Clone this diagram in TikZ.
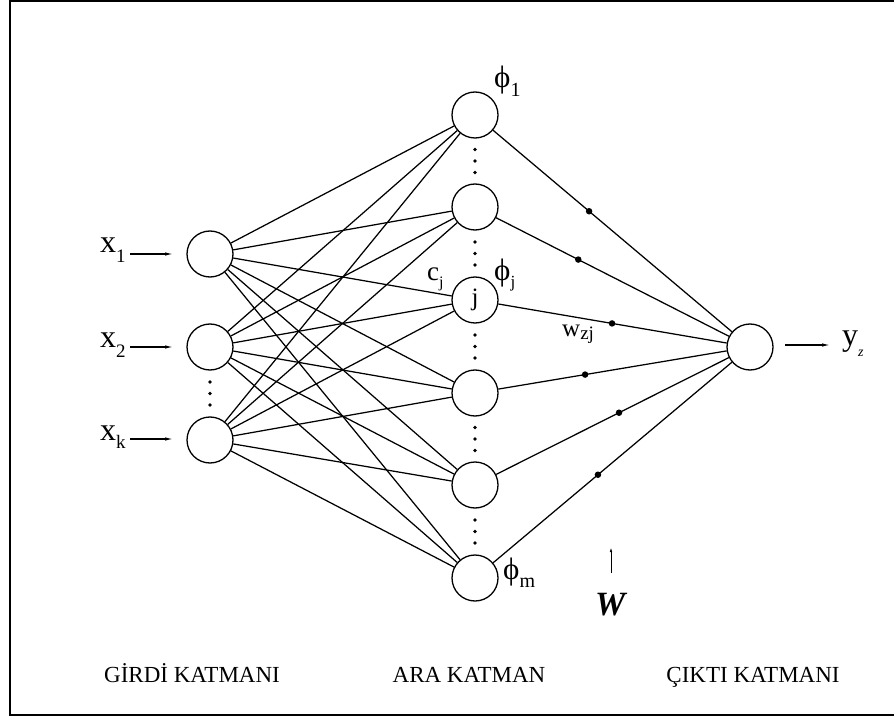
\documentclass[tikz,border=0pt]{standalone}
\usepackage{fontspec}
\setmainfont{Liberation Serif}
\usetikzlibrary{arrows.meta,calc}
\newcommand\fsz[1]{\fontsize{#1}{#1}\selectfont}
% symbol with a lowered subscript: \withsub{main size}{main}{sub size}{sub}{drop}
\newcommand\withsub[5]{{\fsz{#1}#2}\raisebox{-#5}{\fsz{#3}#4}}
\begin{document}
\begin{tikzpicture}[x=1pt,y=-1pt,
  neuron/.style={circle, draw, line width=1.3pt, minimum size=46pt, inner sep=0pt, fill=white, font=\fsz{25}},
  link/.style={line width=1.25pt},
  wdot/.style={circle, fill, inner sep=0pt, minimum size=6.5pt},
  inarrow/.style={line width=1.1pt, -{Latex[length=8pt,width=3.5pt]}},
  lbl/.style={inner sep=0pt, anchor=base west},
  layer/.style={inner sep=0pt, anchor=base, font=\fsz{23}}]
\useasboundingbox (0,0) rectangle (894,719);
% frame (open on the right)
\draw[line width=2pt] (894,1.5) -- (10,1.5) -- (10,715) -- (894,715);

% input layer
\node[neuron] (in1) at (210,254) {};
\node[neuron] (in2) at (210,347) {};
\node[neuron] (ink) at (210,440) {};
% hidden layer
\node[neuron] (h1) at (475,115) {};
\node[neuron] (h2) at (475,207) {};
\node[neuron] (h3) at (475,300) {j};
\node[neuron] (h4) at (475,393) {};
\node[neuron] (h5) at (475,485) {};
\node[neuron] (h6) at (475,578) {};
% output layer
\node[neuron] (out) at (750,347) {};

% input to hidden, fully connected
\foreach \i in {in1,in2,ink}
  \foreach \h in {h1,h2,h3,h4,h5,h6}
    \draw[link] (\i) -- (\h);

% hidden to output, weights marked by dots
\draw[link] (h1) -- node[wdot,pos=0.402]{} (out);
\draw[link] (h2) -- node[wdot,pos=0.353]{} (out);
\draw[link] (h3) -- node[wdot,pos=0.498]{} (out);
\draw[link] (h4) -- node[wdot,pos=0.380]{} (out);
\draw[link] (h5) -- node[wdot,pos=0.528]{} (out);
\draw[link] (h6) -- node[wdot,pos=0.439]{} (out);

% vertical ellipses
\foreach \a/\b in {h1/h2,h2/h3,h3/h4,h4/h5,h5/h6,in2/ink}
  \foreach \o in {-11.5,0,11.5}
    \fill ($(\a)!0.5!(\b)+(0,\o)$) circle (1.9pt);

% input labels and arrows
\node[lbl] (lx1) at (100,253) {\withsub{32}{x}{19}{1}{10pt}};
\node[lbl] (lx2) at (100,347) {\withsub{32}{x}{19}{2}{10pt}};
\node[lbl] (lxk) at (100,440) {\withsub{32}{x}{19}{k}{8pt}};
\coordinate (a1) at (130,254);
\coordinate (a2) at (130,347);
\coordinate (ak) at (130,439);
\draw[inarrow] (a1) -- ++(43,0);
\draw[inarrow] (a2) -- ++(43,0);
\draw[inarrow] (ak) -- ++(43,0);

% hidden labels
\node[lbl] (p1) at (494,88) {\withsub{31}{ϕ}{20}{1}{9pt}};
\node[lbl] (pj) at (494,281) {\withsub{31}{ϕ}{17}{j}{6pt}};
\node[lbl] (pm) at (503,579) {\withsub{31}{ϕ}{20}{m}{8pt}};
\node[lbl] (cj) at (427,280) {\withsub{27}{c}{16}{j}{7pt}};
\node[lbl] (wzj) at (562,336) {\withsub{25}{w}{19}{zj}{3pt}};

% output arrow and label
\coordinate (yo) at (785,345);
\draw[inarrow] (yo) -- ++(45,0);
\node[lbl] (yz) at (842,345) {\withsub{32}{y}{14}{\itshape z}{11pt}};

% weight matrix marker
\node[lbl] (W) at (595,615) {\fsz{34}\bfseries\itshape W};
\coordinate (wb) at (611,573);
\draw[line width=0.9pt, -{Latex[length=5pt,width=2.5pt]}] (wb) -- ++(0,-26);

% layer captions
\node[layer] (c1) at (192,682) {GİRDİ KATMANI};
\node[layer] (c2) at (469,682) {ARA KATMAN};
\node[layer] (c3) at (753,682) {ÇIKTI KATMANI};
\end{tikzpicture}
\end{document}
